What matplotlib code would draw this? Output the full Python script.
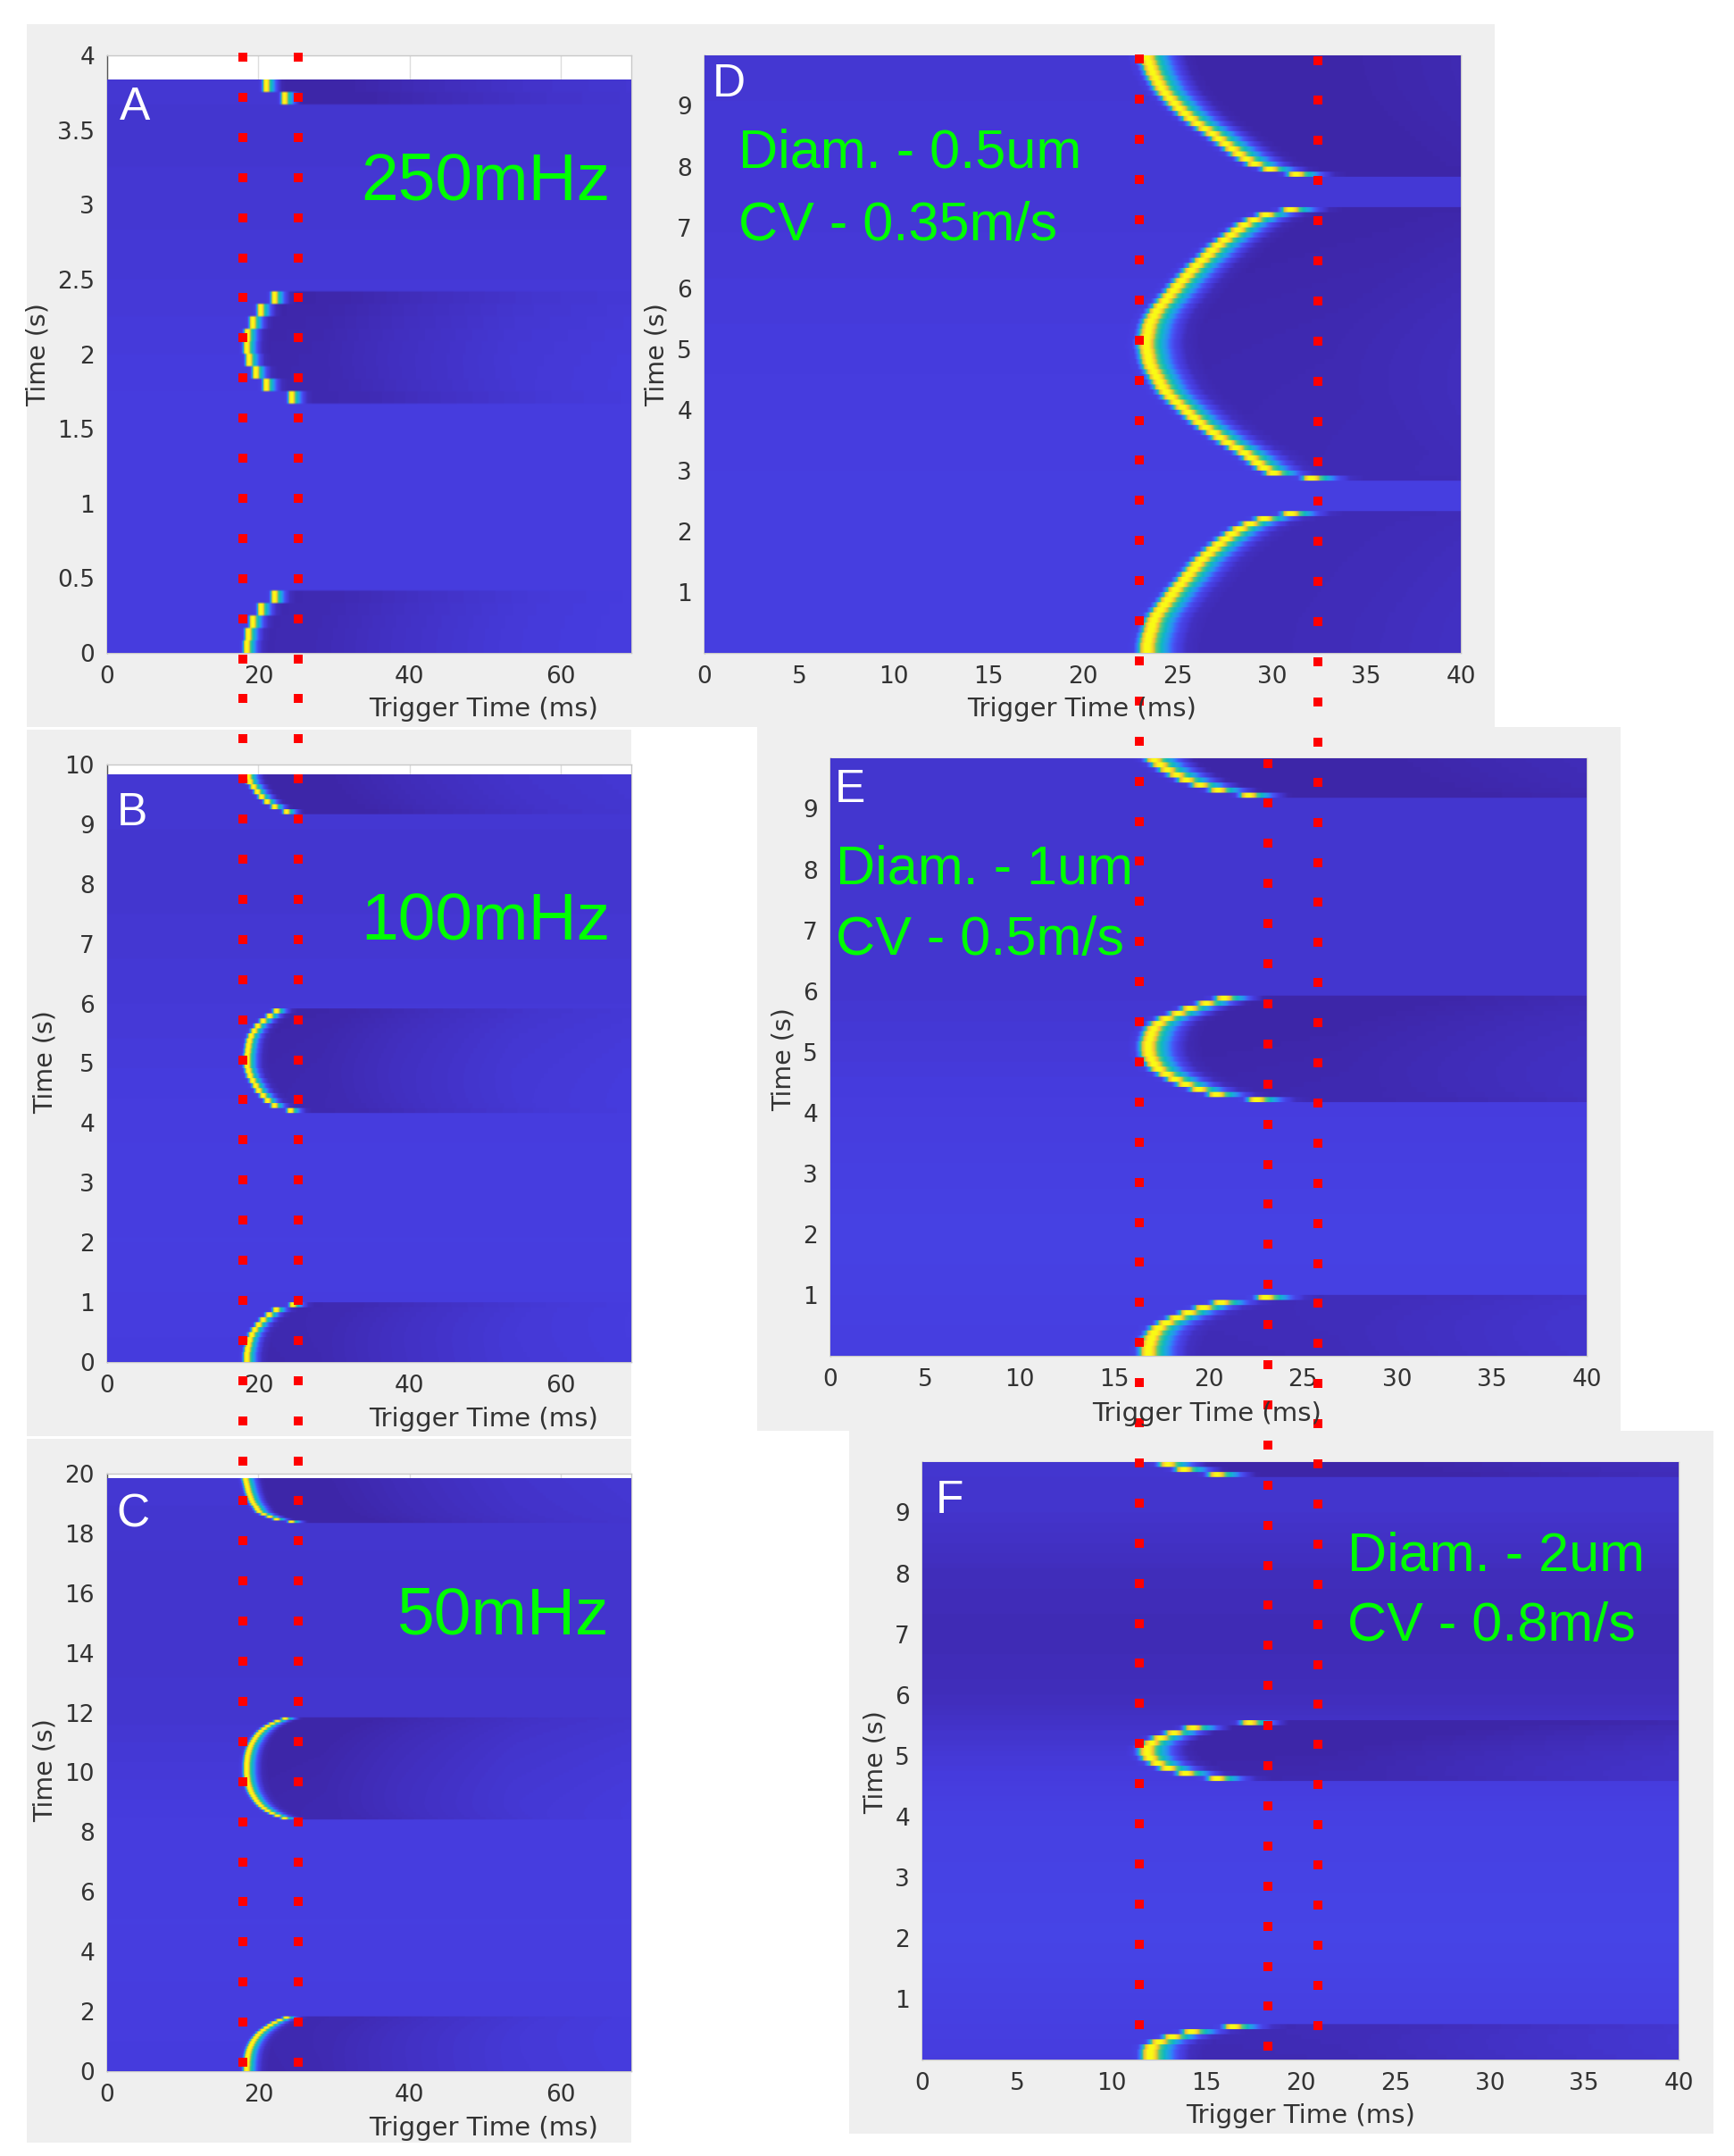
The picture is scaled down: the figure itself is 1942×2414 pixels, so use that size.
# -*- coding: utf-8 -*-
import numpy as np
import matplotlib
matplotlib.use('Agg')
import matplotlib.pyplot as plt
from matplotlib.colors import LinearSegmentedColormap
from matplotlib.patches import Rectangle

W, H = 1942, 2414

# colormap anchors (parula)
cmap_pos = [0, .08, .17, .25, .33, .42, .5, .58, .67, .75, .83, .92, 1]
cmap_rgb = [(.2422, .1504, .6603), (.2751, .2342, .8710), (.2810, .3228, .9579),
            (.20, .48, .99), (.154, .59, .922), (.1085, .667, .873), (.05, .72, .76),
            (.2, .77, .6), (.47, .80, .40), (.78, .77, .2), (.98, .73, .24),
            (.97, .87, .15), (.977, .984, .08)]
parula = LinearSegmentedColormap.from_list('parula', list(zip(cmap_pos, cmap_rgb)))

# shape of one trace around its crest (ms from crest, level above row baseline)
pulse_ms = [-1.0, -.6, -.4, -.2, 0, .2, .4, .6, .9, 1.1, 1.35, 1.7, 2.2, 3, 10, 20, 35, 50]
pulse_lev = [0, .02, .2, .7, .92, .95, .8, .55, .4, .28, .14, .02, -.05, -.07, -.065, -.04, -.012, 0]

# crest time (ms) per 1/12 s row, each block starts at the row in *_start
a_start = [0, 20, 44]
a_ms = [[18.5, 18.7, 19.3, 20.4, 22.2],
        [24.5, 21.1, 19.7, 18.8, 18.5, 18.6, 19.3, 20.35, 22.2],
        [23.55, 21.1]]
b_start = [0, 50, 110]
b_ms = [[18.5, 18.5, 18.6, 18.72, 18.88, 19.16, 19.56, 20.07, 20.67, 21.47, 22.42, 24.65],
        [24.33, 22.18, 21.27, 20.67, 20.07, 19.68, 19.28, 18.92, 18.72, 18.56, 18.56,
         18.56, 18.64, 18.72, 18.84, 19.08, 19.48, 19.96, 20.67, 21.55, 22.46],
        [23.8, 22.2, 21.2, 20.47, 19.9, 19.4, 18.9, 18.7]]
c_start = [0, 101, 220]
c_ms = [[18.48, 18.48, 18.52, 18.52, 18.56, 18.6, 18.64, 18.72, 18.8, 18.92, 19.08,
         19.24, 19.44, 19.68, 19.95, 20.27, 20.67, 21.11, 21.62, 22.18, 22.86, 23.77],
        [23.53, 22.58, 21.86, 21.27, 20.79, 20.39, 20.07, 19.8, 19.56, 19.36, 19.16,
         19.0, 18.88, 18.76, 18.68, 18.6, 18.56, 18.52, 18.48, 18.48, 18.48, 18.48,
         18.48, 18.52, 18.56, 18.6, 18.68, 18.76, 18.88, 19.0, 19.16, 19.36, 19.56,
         19.8, 20.07, 20.39, 20.79, 21.27, 21.86, 22.58, 23.6],
        [24.45, 22.46, 21.54, 20.75, 20.15, 19.91, 19.72, 19.44, 19.24, 19.08, 18.96,
         18.84, 18.72, 18.64, 18.56, 18.48, 18.4, 18.32]]
d_start = [0, 34, 94]
d_ms = [[23.3, 23.3, 23.35, 23.4, 23.5, 23.55, 23.65, 23.8, 24.0, 24.2, 24.4, 24.6, 24.8,
         25.05, 25.3, 25.5, 25.75, 25.95, 26.2, 26.5, 26.8, 27.1, 27.45, 27.8, 28.2,
         28.75, 29.5, 30.9],
        [32.0, 30.0, 29.5, 29.15, 28.8, 28.45, 28.0, 27.55, 27.15, 26.8, 26.4, 26.05,
         25.75, 25.45, 25.15, 24.85, 24.55, 24.3, 24.1, 23.95, 23.8, 23.65, 23.5, 23.4,
         23.35, 23.3, 23.25, 23.25, 23.3, 23.35, 23.4, 23.5, 23.65, 23.8, 24.0, 24.25,
         24.45, 24.7, 24.9, 25.15, 25.4, 25.65, 25.9, 26.2, 26.5, 26.75, 27.05, 27.4,
         27.75, 28.1, 28.45, 28.95, 29.6, 30.9],
        [31.2, 29.8, 29.0, 28.55, 28.15, 27.8, 27.45, 27.1, 26.75, 26.35, 25.95, 25.6,
         25.3, 25.0, 24.75, 24.5, 24.25, 24.05, 23.9, 23.75, 23.6, 23.5, 23.4, 23.3]]
e_start = [0, 50, 110]
e_ms = [[16.68, 16.68, 16.76, 16.84, 17.0, 17.23, 17.63, 18.18, 18.81, 19.6, 20.54, 22.9],
        [22.43, 20.3, 19.36, 18.65, 18.1, 17.63, 17.23, 17.0, 16.84, 16.71, 16.68,
         16.68, 16.76, 16.84, 16.97, 17.23, 17.63, 18.26, 18.89, 19.75, 20.7],
        [22.0, 20.38, 19.44, 18.7, 18.18, 17.7, 17.31, 17.0]]
f_start = [0, 55, 115]
f_ms = [[11.9, 11.9, 11.98, 12.37, 13.08, 14.1, 16.3],
        [15.44, 13.79, 12.84, 12.29, 11.9, 11.74, 11.74, 11.98, 12.45, 13.16, 14.18, 17.17],
        [15.44, 13.7, 12.84]]

# row baseline level against time
a_base_t, a_base_v = [0, 1.6, 2.5, 3.5, 3.84], [.085, .085, .07, .06, .065]
b_base_t, b_base_v = [0, 2, 4, 6, 8, 9.85], [.08, .09, .085, .07, .06, .065]
c_base_t, c_base_v = [0, 5, 8, 12, 16, 18, 19.85], [.08, .09, .085, .06, .055, .06, .065]
d_base_t, d_base_v = [0, 3, 5, 7, 9.85], [.09, .09, .08, .07, .065]
e_base_t, e_base_v = [0, 2, 4, 6, 9.85], [.09, .105, .085, .06, .06]
f_base_t, f_base_v = [0, 2, 4, 5, 6, 7, 8, 9, 9.85], [.085, .115, .1, .07, .03, .02, .03, .055, .06]

xticks_long = [0, 20, 40, 60]
xticks_short = [0, 5, 10, 15, 20, 25, 30, 35, 40]


def heat_rows(n_rows, xmax, ms_scale, start, crest, base_t, base_v):
    x = np.arange(0, xmax + .05, .1)
    t = (np.arange(n_rows) + .5) / 12
    z = np.tile(np.interp(t, base_t, base_v)[:, None], (1, len(x)))
    for s, block in zip(start, crest):
        for j in range(len(block)):
            z[s + j] += np.interp(x - block[j] * ms_scale, pulse_ms, pulse_lev)
    return np.repeat(z, 6, axis=0)


fig = plt.figure(figsize=(W / 100, H / 100), dpi=100, facecolor='white')


def px_axes(zorder):
    ax = fig.add_axes([0, 0, 1, 1], zorder=zorder)
    ax.set_xlim(0, W)
    ax.set_ylim(H, 0)
    ax.axis('off')
    ax.patch.set_alpha(0)
    return ax


back = px_axes(0)
over = px_axes(5)

# grey panels behind each plot (left, top, right, bottom)
for l, t, r, b in [(30, 27, 1674, 814), (30, 817, 707, 1608), (30, 1611, 707, 2399),
                   (848, 814, 1815, 1602), (951, 1602, 1919, 2389)]:
    back.add_patch(Rectangle((l, t), r - l, b - t, fc='#efefef', ec='none'))

TXT = '#333333'
# the 70 ms panels run a little short: gridlines put 60 ms at 516 px, right edge at 69.3 ms
panels = [
    ('A', (120, 62, 707, 731), 69.3, .99, xticks_long, 4, [0, .5, 1, 1.5, 2, 2.5, 3, 3.5, 4],
     ['0', '0.5', '1', '1.5', '2', '2.5', '3', '3.5', '4'],
     46, a_start, a_ms, a_base_t, a_base_v),
    ('B', (120, 856, 707, 1525), 69.3, .99, xticks_long, 10, list(range(0, 11)), [str(i) for i in range(0, 11)],
     118, b_start, b_ms, b_base_t, b_base_v),
    ('C', (120, 1650, 707, 2319), 69.3, .99, xticks_long, 20, list(range(0, 21, 2)), [str(i) for i in range(0, 21, 2)],
     238, c_start, c_ms, c_base_t, c_base_v),
    ('D', (789, 62, 1636, 731), 40, 1, xticks_short, 9.83, list(range(1, 10)), [str(i) for i in range(1, 10)],
     118, d_start, d_ms, d_base_t, d_base_v),
    ('E', (930, 849, 1777, 1518), 40, 1, xticks_short, 9.83, list(range(1, 10)), [str(i) for i in range(1, 10)],
     118, e_start, e_ms, e_base_t, e_base_v),
    ('F', (1033, 1637, 1880, 2306), 40, 1, xticks_short, 9.83, list(range(1, 10)), [str(i) for i in range(1, 10)],
     118, f_start, f_ms, f_base_t, f_base_v),
]

for name, box, xmax, scale, xt, ymax, yt, ytl, n_rows, start, crest, bt, bv in panels:
    l, t, r, b = box
    ax = fig.add_axes([l / W, 1 - b / H, (r - l) / W, (b - t) / H], zorder=2)
    z = heat_rows(n_rows, xmax, scale, start, crest, bt, bv)
    ax.imshow(z, origin='lower', extent=(0, xmax, 0, n_rows / 12), aspect='auto',
              cmap=parula, vmin=0, vmax=1, interpolation='bilinear', zorder=2)
    ax.set_xlim(0, xmax)
    ax.set_ylim(0, ymax)
    ax.set_xticks(xt)
    ax.set_yticks(yt)
    ax.set_yticklabels(ytl)
    ax.tick_params(length=0, labelsize=19, colors=TXT, pad=10)
    ax.set_axisbelow(True)
    ax.grid(axis='x', color='#dddddd', lw=1)
    for side in ax.spines:
        ax.spines[side].set_color('#c8c8c8')
        ax.spines[side].set_linewidth(1)
        ax.spines[side].set_zorder(1)
    ax.spines['left'].set_color('#555555')

# axis titles
for x, y in [(542, 794), (542, 1589), (542, 2383), (1212, 794), (1352, 1583), (1457, 2369)]:
    over.text(x, y, 'Trigger Time (ms)', fontsize=21, color=TXT, ha='center', va='center')
for x, y in [(43, 397), (51, 1189), (51, 1982), (736, 397), (878, 1186), (981, 1973)]:
    over.text(x, y, 'Time (s)', fontsize=20.5, color=TXT, ha='center', va='center', rotation=90)

# panel letters
for s, x, y in [('A', 151, 121), ('B', 148, 911), ('C', 149, 1696),
                ('D', 816, 95), ('E', 952, 884), ('F', 1063, 1680)]:
    over.text(x, y, s, fontsize=37, family='Liberation Sans', color='white', ha='center', va='center')

# green annotations
GREEN = '#00ff00'
for s, y in [('250mHz', 204), ('100mHz', 1033), ('50mHz', 1810)]:
    over.text(683, y, s, fontsize=54, family='Liberation Sans', color=GREEN, ha='right', va='center')
for s, x, y in [('Diam. - 0.5um', 827, 172), ('CV - 0.35m/s', 827, 253),
                ('Diam. - 1um', 936, 974), ('CV - 0.5m/s', 936, 1053),
                ('Diam. - 2um', 1509, 1743), ('CV - 0.8m/s', 1509, 1822)]:
    over.text(x, y, s, fontsize=44, family='Liberation Sans', color=GREEN, ha='left', va='center')

# red dotted guide columns (x, first y, number of dots)
guide_x = [272, 333.5, 1276, 1476, 1420]
guide_y0 = [64, 64, 66.4, 67.5, 854.5]
guide_n = [51, 51, 50, 50, 33]
for gx, gy, gn in zip(guide_x, guide_y0, guide_n):
    over.scatter([gx] * gn, gy + 44.9 * np.arange(gn), marker='s', s=46, c='#ff0000', linewidths=0)

plt.savefig('out.png', dpi=100)
